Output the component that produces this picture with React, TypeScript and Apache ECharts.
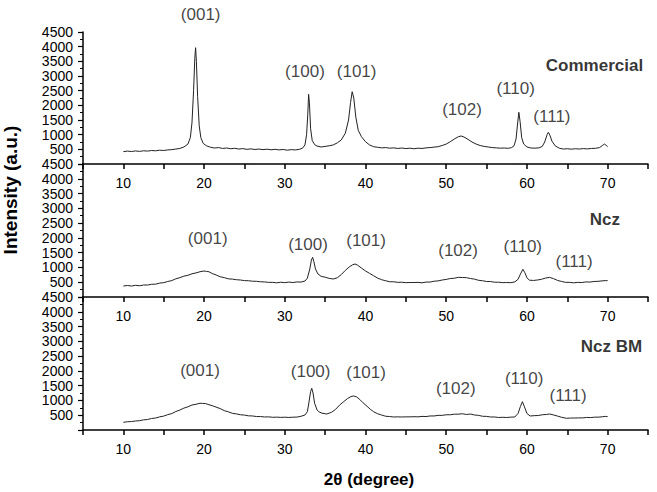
import React, { useEffect, useRef } from "react";
import * as echarts from "echarts";

// XRD patterns, [2θ (degree), intensity (a.u.)]
const commercial: number[][] = [
  [10, 420], [10.5, 440], [11, 425], [11.5, 445], [12, 430], [12.5, 450], [13, 440], [13.5, 460],
  [14, 450], [14.5, 470], [15, 460], [15.5, 480], [16, 490], [16.5, 510], [17, 530], [17.5, 580],
  [18, 680], [18.3, 900], [18.5, 1400], [18.7, 2500], [18.85, 3600], [18.95, 3965], [19.05, 3500],
  [19.2, 2300], [19.4, 1300], [19.6, 900], [19.9, 700], [20.3, 620], [20.8, 570], [21.3, 545],
  [21.8, 560], [22.3, 530], [22.8, 545], [23.3, 520], [23.8, 535], [24.3, 510], [24.8, 525],
  [25.3, 500], [25.8, 515], [26.3, 495], [26.8, 510], [27.3, 490], [27.8, 505], [28.3, 485],
  [28.8, 500], [29.3, 480], [29.8, 495], [30.3, 470], [30.8, 490], [31.3, 480], [31.8, 500],
  [32.2, 540], [32.5, 650], [32.7, 1000], [32.85, 1700], [32.95, 2376], [33.05, 2100], [33.2, 1200],
  [33.4, 800], [33.7, 660], [34, 610], [34.5, 580], [35, 600], [35.5, 620], [36, 650], [36.5, 720],
  [37, 820], [37.5, 1050], [37.9, 1500], [38.15, 2100], [38.35, 2465], [38.55, 2250], [38.8, 1600],
  [39.1, 1150], [39.5, 930], [40, 760], [40.5, 650], [41, 590], [41.5, 570], [42, 550], [42.5, 560],
  [43, 540], [43.5, 550], [44, 530], [44.5, 545], [45, 525], [45.5, 540], [46, 520], [46.5, 540],
  [47, 530], [47.5, 550], [48, 560], [48.5, 575], [49, 590], [49.5, 630], [50, 680], [50.5, 760],
  [51, 850], [51.5, 930], [51.85, 955], [52.2, 920], [52.7, 840], [53.2, 750], [53.7, 680],
  [54.2, 630], [54.7, 600], [55.2, 580], [55.7, 560], [56.2, 550], [56.7, 540], [57.2, 545],
  [57.7, 535], [58.1, 560], [58.4, 620], [58.65, 850], [58.85, 1400], [59, 1762], [59.15, 1450],
  [59.35, 900], [59.6, 680], [60, 580], [60.5, 545], [61, 540], [61.5, 550], [61.9, 600],
  [62.2, 750], [62.5, 1000], [62.65, 1080], [62.85, 980], [63.1, 780], [63.5, 620], [64, 540],
  [64.5, 510], [65, 520], [65.5, 505], [66, 520], [66.5, 510], [67, 525], [67.5, 515], [68, 530],
  [68.5, 535], [69, 560], [69.4, 640], [69.6, 680], [69.8, 640], [70, 590],
];

const ncz: number[][] = [
  [10, 372], [10.5, 390], [11, 370], [11.5, 395], [12, 380], [12.5, 405], [13, 405], [13.5, 430],
  [14, 435], [14.5, 470], [15, 485], [15.5, 525], [16, 555], [16.5, 615], [17, 655], [17.5, 705],
  [18, 735], [18.5, 785], [19, 815], [19.5, 855], [20, 880], [20.3, 865], [20.6, 855], [21, 795],
  [21.5, 745], [22, 685], [22.5, 655], [23, 615], [23.5, 605], [24, 585], [24.5, 575], [25, 555],
  [25.5, 550], [26, 535], [26.5, 530], [27, 515], [27.5, 510], [28, 495], [28.5, 495], [29, 480],
  [29.5, 500], [30, 485], [30.5, 505], [31, 490], [31.5, 510], [32, 505], [32.5, 540], [32.8, 640],
  [33.1, 950], [33.3, 1250], [33.45, 1343], [33.6, 1200], [33.8, 950], [34.1, 780], [34.5, 700],
  [35, 670], [35.5, 630], [36, 609], [36.5, 650], [37, 760], [37.5, 900], [38, 1020], [38.4, 1090],
  [38.7, 1117], [39, 1080], [39.5, 980], [40, 880], [40.5, 800], [41, 720], [41.5, 640], [42, 585],
  [42.5, 550], [43, 515], [43.5, 515], [44, 495], [44.5, 500], [45, 485], [45.5, 490], [46, 490],
  [46.5, 495], [47, 480], [47.5, 505], [48, 505], [48.5, 535], [49, 545], [49.5, 575], [50, 595],
  [50.5, 625], [51, 635], [51.5, 665], [52, 660], [52.5, 655], [53, 625], [53.5, 605], [54, 565],
  [54.5, 550], [55, 525], [55.5, 522], [56, 500], [56.5, 500], [57, 485], [57.5, 490], [58, 485],
  [58.5, 510], [58.9, 600], [59.2, 780], [59.5, 937], [59.75, 820], [60, 650], [60.3, 570],
  [60.8, 560], [61.3, 575], [61.8, 600], [62.3, 640], [62.8, 665], [63.3, 620], [63.8, 560],
  [64.3, 525], [64.8, 495], [65.3, 495], [65.8, 480], [66.3, 495], [66.8, 490], [67.3, 510],
  [67.8, 505], [68.3, 525], [68.8, 530], [69.3, 545], [69.7, 555], [70, 552],
];

const nczBM: number[][] = [
  [10, 260], [10.5, 280], [11, 285], [11.5, 305], [12, 315], [12.5, 343], [13, 355], [13.5, 390],
  [14, 405], [14.5, 445], [15, 470], [15.5, 520], [16, 555], [16.5, 625], [17, 675], [17.5, 740],
  [18, 785], [18.5, 845], [19, 870], [19.5, 905], [19.8, 900], [20.2, 893], [20.6, 855], [21, 825],
  [21.6, 763], [22, 725], [22.5, 655], [23, 615], [23.5, 565], [24, 545], [24.5, 515], [25, 505],
  [25.5, 480], [26, 475], [26.5, 455], [27, 456], [27.5, 440], [28, 445], [28.5, 430], [29, 435],
  [29.5, 427], [30, 433], [30.5, 425], [31, 433], [31.5, 437], [32, 463], [32.5, 508], [32.8, 620],
  [33, 950], [33.2, 1300], [33.34, 1411], [33.5, 1250], [33.7, 900], [34, 680], [34.2, 620],
  [34.6, 570], [35.2, 541], [35.8, 600], [36.3, 700], [36.8, 846], [37.3, 960], [37.8, 1070],
  [38.2, 1130], [38.5, 1151], [38.9, 1120], [39.3, 1030], [39.7, 920], [40.2, 800], [40.6, 700],
  [41, 620], [41.5, 550], [42, 505], [42.5, 465], [43, 455], [43.5, 440], [44, 445], [44.5, 440],
  [45, 445], [45.5, 445], [46, 450], [46.5, 445], [47, 460], [47.5, 455], [48, 475], [48.5, 475],
  [49, 495], [49.5, 495], [50, 515], [50.5, 515], [51, 535], [51.5, 536], [52, 550], [52.5, 525],
  [53, 540], [53.5, 508], [54, 495], [54.5, 465], [55, 460], [55.5, 440], [56, 440], [56.5, 423],
  [57, 430], [57.5, 423], [58, 435], [58.5, 440], [58.9, 560], [59.2, 800], [59.44, 958],
  [59.7, 780], [60, 560], [60.4, 474], [60.9, 485], [61.4, 490], [61.9, 515], [62.4, 525],
  [62.8, 541], [63.3, 510], [63.8, 470], [64.3, 430], [64.9, 395], [65.4, 405], [65.9, 405],
  [66.4, 410], [66.9, 410], [67.4, 425], [67.9, 420], [68.4, 435], [68.9, 435], [69.4, 450],
  [69.7, 460], [70, 451],
];

// Reflection labels, placed in each panel's data coordinates: [2θ, intensity, text]
const commercialPeaks: [number, number, string][] = [
  [19.58, 5080, "(001)"], [32.5, 3147, "(100)"], [38.9, 3137, "(101)"],
  [51.96, 1841, "(102)"], [58.6, 2557, "(110)"], [63.1, 1636, "(111)"],
];
const nczPeaks: [number, number, string][] = [
  [20.45, 1986, "(001)"], [32.88, 1760, "(100)"], [40.07, 1895, "(101)"],
  [51.47, 1590, "(102)"], [59.49, 1692, "(110)"], [65.84, 1195, "(111)"],
];
const nczBMPeaks: [number, number, string][] = [
  [19.5, 1997, "(001)"], [33.2, 1973, "(100)"], [40.07, 1929, "(101)"],
  [51.18, 1411, "(102)"], [59.65, 1726, "(110)"], [65.1, 1184, "(111)"],
];

// Sample names, right-aligned at [2θ, intensity]
const sampleNames = ["Commercial", "Ncz", "Ncz BM"];
const sampleNamePos: number[][] = [[74.4, 3375], [71.54, 2606], [74.27, 2809]];

const patterns = [commercial, ncz, nczBM];
const peakSets = [commercialPeaks, nczPeaks, nczBMPeaks];

const FONT = "'Liberation Sans', Arial, sans-serif";

export default function App() {
  const ref = useRef<HTMLDivElement>(null);

  useEffect(() => {
    if (!ref.current) return;
    const chart = echarts.init(ref.current, null, { renderer: "svg" });

    const gridTops = [32, 164, 297];
    const gridHeights = [132, 133, 133];

    const grids = gridTops.map((top, i) => ({
      left: 83,
      right: 9,
      top,
      height: gridHeights[i],
      containLabel: false,
    }));

    const xAxes = gridTops.map((_, i) => ({
      type: "value",
      gridIndex: i,
      min: 5,
      max: 75,
      interval: 5,
      axisLine: { show: true, onZero: false, lineStyle: { color: "#000", width: 1.5 } },
      axisTick: { show: true, length: 5, lineStyle: { color: "#000", width: 1.5 } },
      splitLine: { show: false },
      axisLabel: {
        color: "#000",
        fontSize: 14,
        fontFamily: FONT,
        margin: 12,
        formatter: (v: number) => (v >= 10 && v <= 70 && v % 10 === 0 ? String(v) : ""),
      },
    }));

    const yAxes = gridTops.map((_, i) => ({
      type: "value",
      gridIndex: i,
      min: 0,
      max: 4500,
      interval: 500,
      axisLine: { show: true, lineStyle: { color: "#000", width: 1.5 } },
      axisTick: { show: true, length: 5, lineStyle: { color: "#000", width: 1.2 } },
      minorTick: { show: true, splitNumber: 2, length: 3, lineStyle: { color: "#000", width: 1 } },
      splitLine: { show: false },
      minorSplitLine: { show: false },
      axisLabel: {
        color: "#000",
        fontSize: 14,
        fontFamily: FONT,
        margin: 10,
        showMinLabel: false,
        formatter: (v: number) => String(v),
      },
    }));

    const lineSeries = patterns.map((data, i) => ({
      type: "line",
      xAxisIndex: i,
      yAxisIndex: i,
      data,
      showSymbol: false,
      symbol: "none",
      lineStyle: { color: "#222", width: 1 },
    }));

    const peakSeries = peakSets.map((peaks, i) => ({
      type: "scatter",
      xAxisIndex: i,
      yAxisIndex: i,
      symbolSize: 0,
      clip: false,
      silent: true,
      data: peaks.map(([x, y, t]) => ({ value: [x, y], name: t })),
      label: {
        show: true,
        position: "inside",
        formatter: "{b}",
        color: "#111",
        fontSize: 17,
        fontFamily: FONT,
      },
    }));

    const nameSeries = sampleNames.map((name, i) => ({
      type: "scatter",
      xAxisIndex: i,
      yAxisIndex: i,
      symbolSize: 0,
      clip: false,
      silent: true,
      data: [{ value: sampleNamePos[i], name }],
      label: {
        show: true,
        position: "inside",
        align: "right",
        formatter: "{b}",
        color: "#000",
        fontSize: 17,
        fontWeight: "bold",
        fontFamily: FONT,
      },
    }));

    chart.setOption({
      animation: false,
      backgroundColor: "#fff",
      grid: grids,
      xAxis: xAxes,
      yAxis: yAxes,
      series: [...lineSeries, ...peakSeries, ...nameSeries],
      graphic: [
        {
          type: "text",
          x: 10,
          y: 190,
          rotation: Math.PI / 2,
          style: {
            text: "Intensity (a.u.)",
            fontSize: 19,
            fontWeight: "bold",
            fontFamily: FONT,
            fill: "#000",
            align: "center",
            verticalAlign: "middle",
          },
        },
        {
          type: "text",
          x: 369,
          y: 479,
          style: {
            text: "2θ (degree)",
            fontSize: 17,
            fontWeight: "bold",
            fontFamily: FONT,
            fill: "#000",
            align: "center",
            verticalAlign: "middle",
          },
        },
      ],
    });

    return () => chart.dispose();
  }, []);

  return (
    <div
      ref={ref}
      style={{ position: "absolute", left: 0, top: 0, width: 657, height: 492, background: "#fff" }}
    />
  );
}
